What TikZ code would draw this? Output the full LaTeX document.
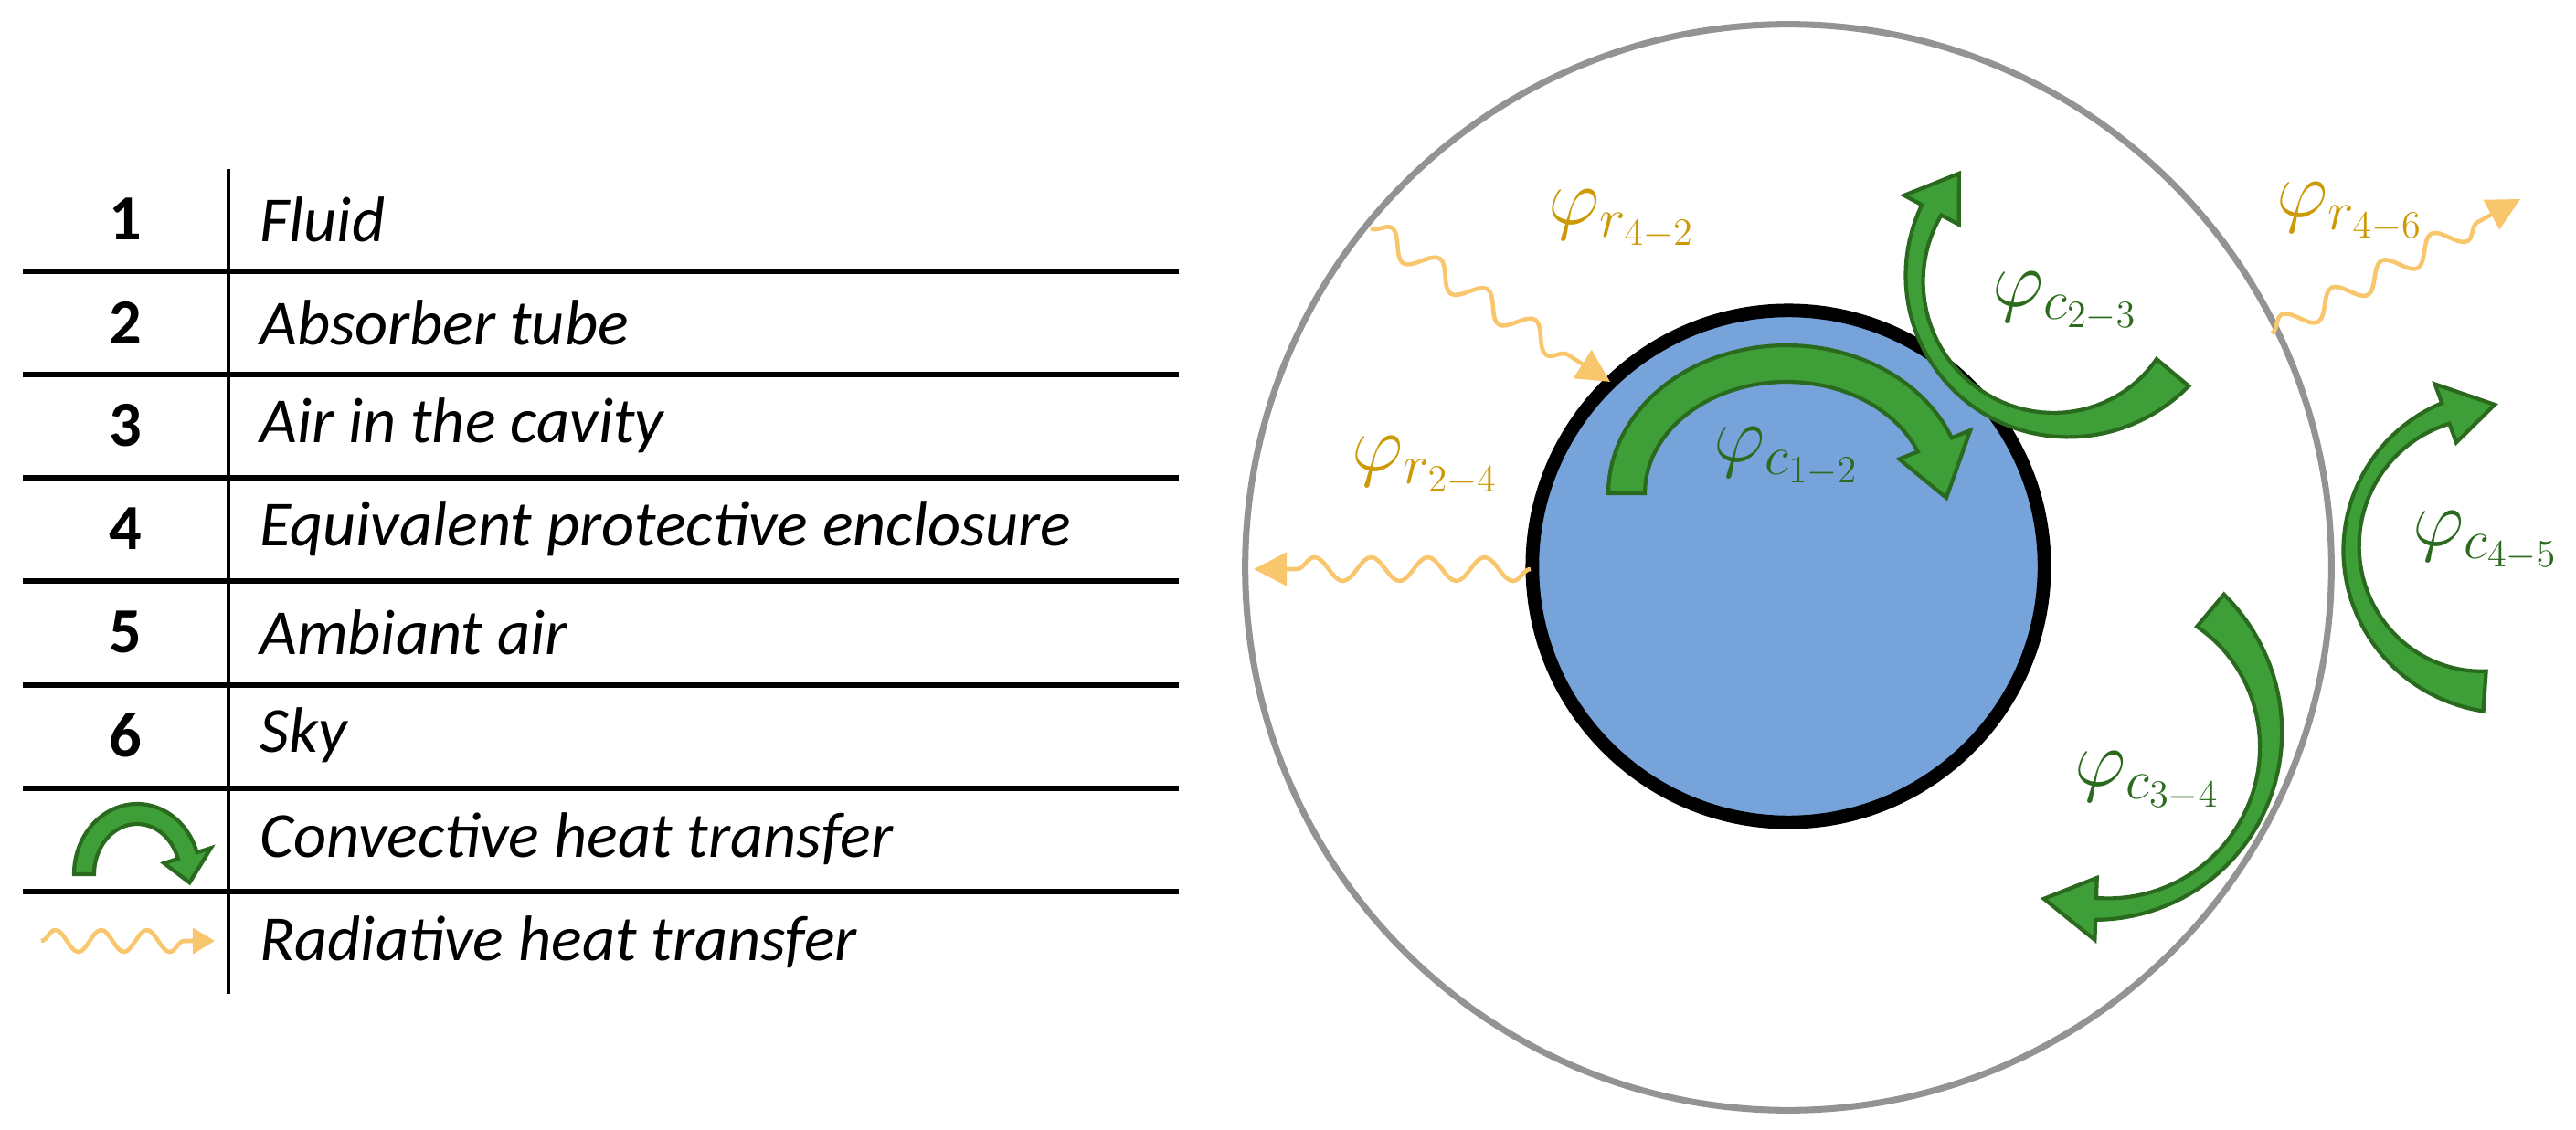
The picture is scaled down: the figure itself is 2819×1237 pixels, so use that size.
\documentclass[tikz,border=0pt]{standalone}
\usepackage{fontspec}
\setmainfont{Carlito}
\usetikzlibrary{decorations.pathmorphing,arrows.meta}
\definecolor{waveC}{HTML}{F8C66C}
\definecolor{labO}{HTML}{CC9A06}
\definecolor{labG}{HTML}{2C6B1E}
\definecolor{arrF}{HTML}{3E9E37}
\definecolor{arrD}{HTML}{2A6A1F}
\definecolor{tubeC}{HTML}{77A3DB}
\newcommand{\convarrow}[9]{%
 \def\W{((1-(\x-(#5))/((#6)-(#5)))^2*#8+2*((\x-(#5))/((#6)-(#5)))*(1-(\x-(#5))/((#6)-(#5)))*#9+((\x-(#5))/((#6)-(#5)))^2*\wh)}%
 \filldraw[convstyle] plot[domain=#5:#6,samples=50] ({#1+(#3+0.5*\W)*cos(\x)},{#2-(#4+0.5*\W)*sin(\x)})
  -- ({#1+(#3+\hw)*cos(#6)},{#2-(#4+\hw)*sin(#6)})
  -- ({#1+#3*cos(#7)},{#2-#4*sin(#7)})
  -- ({#1+(#3-\hw)*cos(#6)},{#2-(#4-\hw)*sin(#6)})
  -- plot[domain=#6:#5,samples=50] ({#1+(#3-0.5*\W)*cos(\x)},{#2-(#4-0.5*\W)*sin(\x)}) -- cycle;}
\tikzset{
 convstyle/.style={fill=arrF,draw=arrD,line width=1.2pt,line join=miter},
 wave/.style={draw=waveC,line width=1.3pt,decorate,decoration={snake,amplitude=0.13cm,segment length=0.62cm,post length=0.3cm},
   -{Triangle[length=0.36cm,width=0.36cm,fill=waveC,color=waveC]}},
 lw/.style={line width=1.6pt,black},
 num/.style={font=\fontsize{20}{24}\selectfont\bfseries},
 txt/.style={font=\fontsize{20}{24}\selectfont\itshape,anchor=west},
 lab/.style={font=\fontsize{24}{28}\selectfont},
}
\begin{document}
\begin{tikzpicture}[x=0.01cm,y=-0.01cm]
\useasboundingbox (0,0) rectangle (2819,1237);
% legend
\draw[line width=1.1pt] (250,185) coordinate (vt) -- (250,1088) coordinate (vb);
\foreach \yy in {297,410,523,636,750,863,976} \draw[lw] (25,\yy) -- (1290,\yy);
\foreach \n/\t [count=\i from 0] in {1/Fluid,2/Absorber tube,3/Air in the cavity,4/Equivalent protective enclosure,5/Ambiant air,6/Sky}{
 \node[num] (n\n) at (137,{240+113*\i}) {\n};
 \node[txt] (t\n) at (272,{240+113*\i}) {\t};}
\node[txt] (t7) at (272,918) {Convective heat transfer};
\node[txt] (t8) at (272,1031) {Radiative heat transfer};
\def\wh{22}\def\hw{27}
\convarrow{150}{957}{58}{66}{180}{18}{-8}{22}{22}
\coordinate (lw1) at (45,1030); \coordinate (lw2) at (235,1030);
\draw[wave,decoration={snake,amplitude=0.12cm,segment length=0.5cm,post length=0.2cm},-{Triangle[length=0.24cm,width=0.28cm,fill=waveC,color=waveC]}] (lw1) -- (lw2);
% circles
\node[circle,draw=gray!85,line width=2pt,minimum size=11.88cm,inner sep=0pt] (outer) at (1957,621) {};
\node[circle,draw=black,fill=tubeC,line width=4.2pt,minimum size=5.6cm,inner sep=0pt] (tube) at (1957,620) {};
% convective arrows
\def\wh{40}\def\hw{42}
\convarrow{1955}{540}{175}{142}{180}{22}{-2}{40}{40}
\def\wh{24}\def\hw{34}
\convarrow{2255}{305}{160}{160}{-40}{-208}{-226}{46}{4}
\convarrow{2300}{810}{185}{185}{50}{-92}{-110}{46}{4}
\convarrow{2730}{600}{157}{157}{-94}{-250}{-270}{44}{2}
% radiative waves
\coordinate (w1a) at (1500,250); \coordinate (w1b) at (1762,418);
\coordinate (w2a) at (1675,623); \coordinate (w2b) at (1372,623);
\coordinate (w3a) at (2486,365); \coordinate (w3b) at (2758,218);
\draw[wave] (w1a) -- (w1b);
\draw[wave] (w2a) -- (w2b);
\draw[wave] (w3a) -- (w3b);
% labels
\node[lab,text=labO] (l42) at (1775,240) {$\varphi_{r_{4-2}}$};
\node[lab,text=labO] (l24) at (1560,510) {$\varphi_{r_{2-4}}$};
\node[lab,text=labO] (l46) at (2572,232) {$\varphi_{r_{4-6}}$};
\node[lab,text=labG] (l12) at (1955,500) {$\varphi_{c_{1-2}}$};
\node[lab,text=labG] (l23) at (2260,330) {$\varphi_{c_{2-3}}$};
\node[lab,text=labG] (l45) at (2720,592) {$\varphi_{c_{4-5}}$};
\node[lab,text=labG] (l34) at (2350,855) {$\varphi_{c_{3-4}}$};
\end{tikzpicture}
\end{document}
